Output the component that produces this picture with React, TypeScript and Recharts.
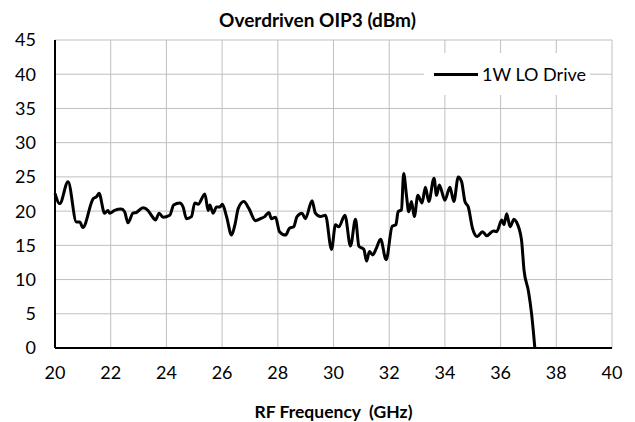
import { LineChart, Line, XAxis, YAxis, CartesianGrid } from 'recharts'

const freqGHz = [
    20.0, 20.17, 20.47, 20.77, 20.89, 21.0, 21.37, 21.49, 21.58, 21.78, 21.9, 21.96, 22.14, 22.38, 22.5, 22.62,
    22.8, 22.92, 23.16, 23.34, 23.46, 23.61, 23.74, 23.88, 24.12, 24.26, 24.48, 24.6, 24.72, 24.9, 25.02, 25.14,
    25.38, 25.5, 25.56, 25.68, 25.8, 25.92, 26.01, 26.16, 26.34, 26.46, 26.58, 26.78, 26.96, 27.2, 27.38, 27.53,
    27.68, 27.77, 27.92, 28.06, 28.28, 28.42, 28.57, 28.69, 28.87, 28.99, 29.23, 29.35, 29.53, 29.71, 29.93, 30.07,
    30.19, 30.41, 30.61, 30.79, 30.91, 31.09, 31.19, 31.29, 31.41, 31.53, 31.69, 31.89, 32.11, 32.24, 32.32, 32.44,
    32.52, 32.62, 32.7, 32.8, 32.9, 33.03, 33.18, 33.3, 33.42, 33.61, 33.7, 33.8, 34.0, 34.18, 34.32, 34.48,
    34.6, 34.72, 34.84, 34.99, 35.16, 35.35, 35.5, 35.74, 35.86, 36.04, 36.12, 36.22, 36.34, 36.48, 36.57, 36.75,
    36.84, 37.0, 37.11, 37.23,
]

const oip3 = [
    22.6, 21.1, 24.3, 18.4, 18.4, 17.6, 21.8, 22.1, 22.6, 19.7, 20.1, 19.7, 20.1, 20.3, 19.9, 18.3,
    19.7, 19.8, 20.5, 20.1, 19.4, 18.7, 19.7, 19.1, 19.4, 20.9, 21.2, 20.6, 18.9, 19.2, 21.2, 21.0,
    22.5, 20.1, 20.9, 19.7, 20.6, 20.6, 21.0, 19.2, 16.5, 18.0, 20.4, 21.4, 20.4, 18.6, 18.9, 19.2,
    19.8, 18.9, 19.1, 17.0, 16.5, 17.5, 17.7, 19.2, 19.7, 18.9, 21.5, 19.7, 19.2, 19.4, 14.4, 18.0,
    17.7, 19.4, 14.9, 18.8, 14.9, 14.4, 12.7, 14.1, 13.6, 14.5, 15.9, 12.9, 17.8, 18.0, 19.9, 20.2,
    25.5, 22.3, 19.9, 21.4, 19.2, 22.3, 21.2, 23.5, 21.4, 24.8, 22.3, 23.8, 21.6, 23.5, 21.4, 25.0,
    24.3, 21.4, 20.6, 17.5, 16.3, 17.0, 16.4, 17.1, 17.0, 18.7, 18.0, 19.6, 17.7, 18.8, 18.4, 15.8,
    11.4, 8.3, 5.1, 0,
]

const xTicks = [20, 22, 24, 26, 28, 30, 32, 34, 36, 38, 40]
const yTicks = [0, 5, 10, 15, 20, 25, 30, 35, 40, 45]

const seriesName = '1W LO Drive'

const data = freqGHz.map((f, i) => ({ f, v: oip3[i] }))

const font = 'Lato, "Noto Sans", sans-serif'

export default function App() {
    return (
        <div style={{ position: 'absolute', left: 0, top: 0, width: 635, height: 422, background: '#fff', fontFamily: font }}>
            <div style={{ position: 'absolute', top: 8, width: 635, textAlign: 'center', fontWeight: 'bold', fontSize: 19 }}>
                Overdriven OIP3 (dBm)
            </div>
            <LineChart width={635} height={422} data={data} margin={{ top: 40, right: 23, left: 0, bottom: 0 }}>
                <CartesianGrid stroke="#bfbfbf" strokeWidth={1} />
                <XAxis
                    dataKey="f" type="number" domain={[20, 40]} ticks={xTicks} height={74}
                    axisLine={{ stroke: '#000', strokeWidth: 2 }} tickLine={false} tickSize={0} tickMargin={18}
                    tick={{ fill: '#000', fontSize: 18, fontFamily: font }}
                    label={{ value: 'RF Frequency\u00a0\u00a0(GHz)', position: 'insideBottom', offset: 4, fill: '#000', fontSize: 17.5, fontWeight: 'bold', fontFamily: font }}
                />
                <XAxis xAxisId="top" dataKey="f" type="number" domain={[20, 40]} orientation="top" height={0}
                    tick={false} tickLine={false} axisLine={{ stroke: '#000', strokeWidth: 2 }} />
                <YAxis
                    type="number" domain={[0, 45]} ticks={yTicks} width={55} interval={0}
                    axisLine={{ stroke: '#000', strokeWidth: 2 }} tickLine={false} tickSize={0} tickMargin={19}
                    tick={{ fill: '#000', fontSize: 18, fontFamily: font }}
                />
                <YAxis yAxisId="right" type="number" domain={[0, 45]} orientation="right" width={0}
                    tick={false} tickLine={false} axisLine={{ stroke: '#000', strokeWidth: 2 }} />
                <Line
                    type="monotone" dataKey="v" stroke="#000" strokeWidth={3} dot={false}
                    isAnimationActive={false} name={seriesName}
                />
            </LineChart>
            <div style={{
                position: 'absolute', top: 53, left: 424, width: 166, height: 42, background: '#fff',
                display: 'flex', alignItems: 'center', fontSize: 18, color: '#000',
            }}>
                <div style={{ width: 44, height: 3, background: '#000', marginLeft: 10, marginRight: 4 }} />
                <span>{seriesName}</span>
            </div>
        </div>
    )
}
